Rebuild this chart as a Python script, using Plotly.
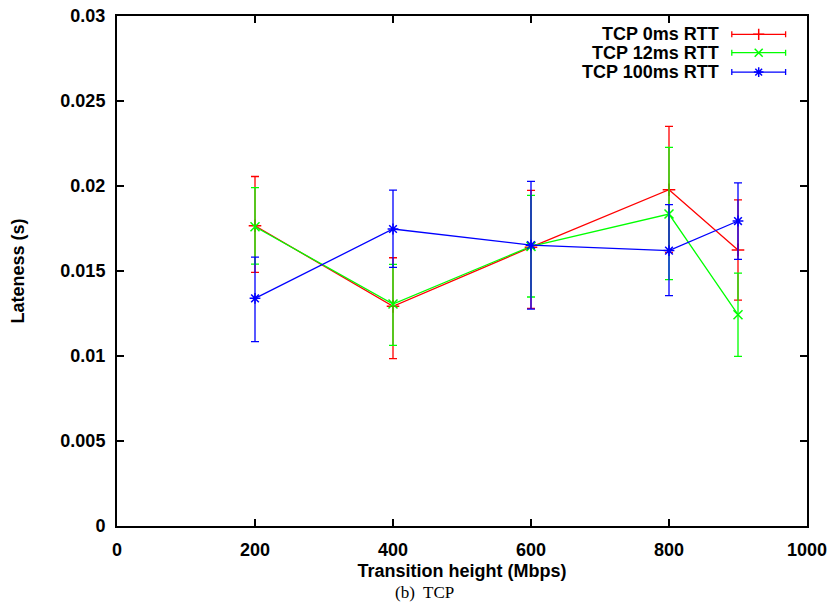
import plotly.graph_objects as go

# ---- data ----
x_mbps = [200, 400, 600, 800, 900]

tcp0_mean = [0.01766, 0.01292, 0.01640, 0.01978, 0.01624]
tcp0_hi   = [0.02056, 0.01578, 0.01974, 0.02351, 0.01918]
tcp0_lo   = [0.01492, 0.00984, 0.01280, 0.01610, 0.01329]

tcp12_mean = [0.01760, 0.01306, 0.01645, 0.01835, 0.01243]
tcp12_hi   = [0.01990, 0.01539, 0.01945, 0.02227, 0.01488]
tcp12_lo   = [0.01541, 0.01062, 0.01347, 0.01449, 0.00998]

tcp100_mean = [0.01339, 0.01747, 0.01652, 0.01620, 0.01794]
tcp100_hi   = [0.01582, 0.01976, 0.02027, 0.01890, 0.02018]
tcp100_lo   = [0.01084, 0.01521, 0.01276, 0.01355, 0.01568]

series_names = ["TCP 0ms RTT", "TCP 12ms RTT", "TCP 100ms RTT"]
series_colors = ["#ff0000", "#00ff00", "#0000ff"]
series_symbols = ["cross-thin", "x-thin", "asterisk"]

y_tickvals = [0, 0.005, 0.01, 0.015, 0.02, 0.025, 0.03]
y_ticktext = ["0", "0.005", "0.01", "0.015", "0.02", "0.025", "0.03"]
x_tickvals = [0, 200, 400, 600, 800, 1000]

FONT = "Liberation Sans, Arial, sans-serif"

fig = go.Figure()

all_series = [
    (tcp0_mean, tcp0_hi, tcp0_lo),
    (tcp12_mean, tcp12_hi, tcp12_lo),
    (tcp100_mean, tcp100_hi, tcp100_lo),
]

for (mean, hi, lo), name, col, sym in zip(all_series, series_names, series_colors, series_symbols):
    plus = [h - m for h, m in zip(hi, mean)]
    minus = [m - l for m, l in zip(mean, lo)]
    fig.add_trace(go.Scatter(
        x=x_mbps, y=mean, mode="lines+markers", name=name,
        line=dict(color=col, width=1.3),
        marker=dict(symbol=sym, size=9, color=col, line=dict(color=col, width=1.5)),
        error_y=dict(type="data", array=plus, arrayminus=minus, symmetric=False,
                     color=col, thickness=1.3, width=4),
        showlegend=False,
    ))

# ---- gnuplot-style key (text left, sample right) on an overlay axis ----
leg_y = [0.964, 0.928, 0.890]
for name, col, sym, yy in zip(series_names, series_colors, series_symbols, leg_y):
    fig.add_trace(go.Scatter(
        x=[0.930], y=[yy], xaxis="x2", yaxis="y2", mode="markers",
        marker=dict(symbol=sym, size=8, color=col, line=dict(color=col, width=1.5)),
        error_x=dict(type="constant", value=0.039, color=col, thickness=1.3, width=3),
        showlegend=False, hoverinfo="skip",
    ))
    fig.add_annotation(
        x=0.8754, y=yy, xref="paper", yref="paper", text=name, showarrow=False,
        xanchor="right", yanchor="middle",
        font=dict(family=FONT, size=18, color="black", weight="bold"),
    )

fig.add_annotation(
    x=0.445, y=-0.130, xref="paper", yref="paper", text="(b)  TCP", showarrow=False,
    xanchor="center", yanchor="middle",
    font=dict(family="Liberation Serif, Times New Roman, serif", size=17, color="black"),
)

axis_common = dict(
    showline=True, linecolor="black", linewidth=2, mirror="allticks",
    ticks="inside", ticklen=7, tickwidth=2, tickcolor="black",
    showgrid=False, zeroline=False, automargin=False, ticklabeloverflow="allow",
    tickfont=dict(family=FONT, size=18, color="black", weight="bold"),
)

fig.update_layout(
    width=835, height=608,
    margin=dict(l=109, r=36, t=8, b=90),
    paper_bgcolor="white", plot_bgcolor="white",
    xaxis=dict(range=[0, 1000], tickvals=x_tickvals, ticklabelstandoff=6,
               title=dict(text="Transition height (Mbps)", standoff=6,
                          font=dict(family=FONT, size=18, color="black", weight="bold")),
               **axis_common),
    yaxis=dict(range=[0, 0.03], tickvals=y_tickvals, ticktext=y_ticktext, ticklabelstandoff=6,
               title=dict(text="Lateness (s)", standoff=31,
                          font=dict(family=FONT, size=18, color="black", weight="bold")),
               **axis_common),
    xaxis2=dict(range=[0, 1], overlaying="x", visible=False, fixedrange=True),
    yaxis2=dict(range=[0, 1], overlaying="y", visible=False, fixedrange=True),
    showlegend=False,
)

fig.write_html("out.html")
